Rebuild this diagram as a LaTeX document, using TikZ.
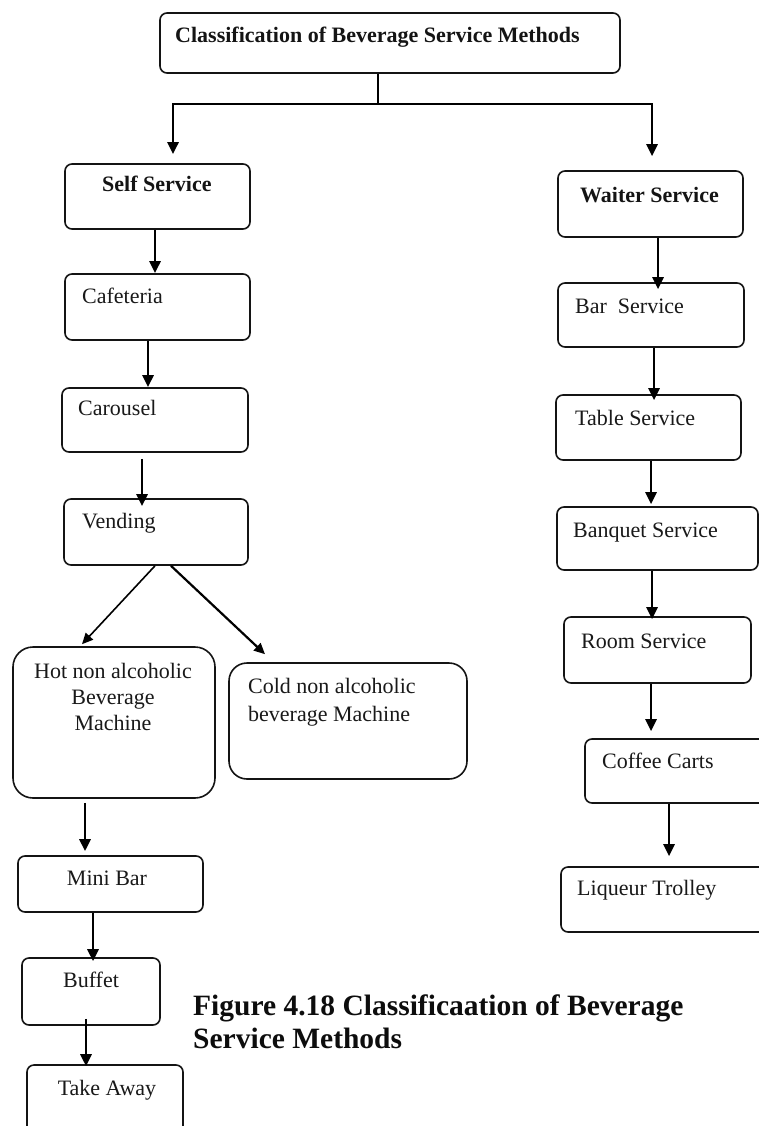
\documentclass[tikz,border=0pt]{standalone}
\usepackage{fontspec}
\setmainfont{Liberation Serif}
\usetikzlibrary{arrows.meta}
\begin{document}
\begin{tikzpicture}[x=1pt,y=-1pt,
  box/.style={draw=black!92, line width=1.6pt, rounded corners=7pt, inner sep=0pt},
  lbl/.style={anchor=base west, inner sep=0pt, text=black!90, font=\fontsize{22}{26}\selectfont},
  clbl/.style={anchor=base, inner sep=0pt, text=black!90, font=\fontsize{22}{26}\selectfont},
  blbl/.style={anchor=base west, inner sep=0pt, text=black!92, font=\fontsize{22}{26}\selectfont\bfseries},
  capline/.style={anchor=base west, inner sep=0pt, text=black!95, font=\fontsize{29.5}{33}\selectfont\bfseries},
  arr/.style={line width=2.6pt, -{Triangle[length=12pt,width=11pt]}},
  darr/.style={line width=1.6pt, -{Triangle[length=11pt,width=10pt]}},
  darrb/.style={line width=2.2pt, -{Triangle[length=11pt,width=10pt]}},
  link/.style={line width=1.6pt}]
\clip (0,0) rectangle (759,1126);
\fill[white] (0,0) rectangle (759,1126);

% ---- boxes ----
\node[box, minimum width=460pt, minimum height=60pt] (top) at (390,43) {};
\node[box, minimum width=185pt, minimum height=65pt] (self) at (157.5,196.5) {};
\node[box, minimum width=185pt, minimum height=66pt] (cafe) at (157.5,307) {};
\node[box, minimum width=186pt, minimum height=64pt] (carousel) at (155,420) {};
\node[box, minimum width=184pt, minimum height=66pt] (vending) at (156,532) {};
\node[box, rounded corners=20pt, minimum width=202pt, minimum height=151pt] (hot) at (114,722.5) {};
\node[box, rounded corners=18pt, minimum width=238pt, minimum height=116pt] (cold) at (348,721) {};
\node[box, minimum width=185pt, minimum height=56pt] (minibar) at (110.5,884) {};
\node[box, minimum width=138pt, minimum height=67pt] (buffet) at (91,991.5) {};
\node[box, minimum width=156pt, minimum height=75pt] (takeaway) at (105,1102.5) {};
\node[box, minimum width=185pt, minimum height=66pt] (waiter) at (650.5,204) {};
\node[box, minimum width=186pt, minimum height=64pt] (bar) at (651,315) {};
\node[box, minimum width=185pt, minimum height=65pt] (table) at (648.5,427.5) {};
\node[box, minimum width=201pt, minimum height=63pt] (banquet) at (657.5,538.5) {};
\node[box, minimum width=187pt, minimum height=66pt] (room) at (657.5,650) {};
\node[box, minimum width=195pt, minimum height=64pt] (coffee) at (682.5,771) {};
\node[box, minimum width=219pt, minimum height=65pt] (liqueur) at (670.5,899.5) {};

% ---- texts ----
\node[blbl] (ttop) at (175,43) {Classification of Beverage Service Methods};
\node[blbl] (tself) at (102,192) {Self Service};
\node[blbl] (twaiter) at (580,202) {Waiter Service};
\node[lbl] (tcafe) at (82,303) {Cafeteria};
\node[lbl] (tcarousel) at (78,415) {Carousel};
\node[lbl] (tvending) at (82,528) {Vending};
\node[clbl] (thot1) at (113,678) {Hot non alcoholic};
\node[clbl] (thot2) at (113,704) {Beverage};
\node[clbl] (thot3) at (113,730) {Machine};
\node[lbl] (tcold1) at (248,693) {Cold non alcoholic};
\node[lbl] (tcold2) at (248,721) {beverage Machine};
\node[clbl] (tminibar) at (107,885) {Mini Bar};
\node[clbl] (tbuffet) at (91,987) {Buffet};
\node[clbl] (ttake) at (107,1095) {Take Away};
\node[lbl] (tbar) at (575,313) {Bar\ \ Service};
\node[lbl] (ttable) at (575,425) {Table Service};
\node[lbl] (tbanquet) at (573,537) {Banquet Service};
\node[lbl] (troom) at (581,648) {Room Service};
\node[lbl] (tcoffee) at (602,768) {Coffee Carts};
\node[lbl] (tliqueur) at (577,895) {Liqueur Trolley};

\node[capline] (cap1) at (193,1015) {Figure 4.18 Classificaation of Beverage};
\node[capline] (cap2) at (193,1048) {Service Methods};

% ---- connectors ----
\coordinate (jc) at (378,104);
\coordinate (jl) at (173,104);
\coordinate (jr) at (652,104);
\draw[link] (top.south -| jc) -- (jc);
\draw[link, line cap=rect] (jl) -- (jr);
\draw[arr] (jl) -- ([yshift=9pt]self.north -| jl);
\draw[arr] (jr) -- ([yshift=14pt]waiter.north -| jr);

\draw[arr] ([xshift=-2.5pt]self.south) -- ([xshift=-2.5pt]self.south |- cafe.north);
\draw[arr] ([xshift=-9.5pt]cafe.south) -- ([xshift=-9.5pt]cafe.south |- carousel.north);
\draw[arr] ([xshift=-13pt,yshift=-6pt]carousel.south) -- ([xshift=-13pt,yshift=-8pt]carousel.south |- vending.north);
\draw[darr] ([xshift=-1pt]vending.south) -- ([xshift=-32pt,yshift=2pt]hot.north);
\draw[darrb] ([xshift=15pt]vending.south) -- ([xshift=-83pt,yshift=8pt]cold.north);
\draw[arr] ([xshift=-29pt,yshift=-4pt]hot.south) -- ([xshift=-29pt,yshift=4pt]hot.south |- minibar.north);
\draw[arr] ([xshift=-17.5pt]minibar.south) -- ([xshift=-17.5pt,yshift=-4pt]minibar.south |- buffet.north);
\draw[arr] ([xshift=-5pt,yshift=7pt]buffet.south) -- ([xshift=-5pt,yshift=-2pt]buffet.south |- takeaway.north);

\draw[arr] ([xshift=7.5pt]waiter.south) -- ([xshift=7.5pt,yshift=-7pt]waiter.south |- bar.north);
\draw[arr] ([xshift=3pt]bar.south) -- ([xshift=3pt,yshift=-6pt]bar.south |- table.north);
\draw[arr] ([xshift=2.5pt]table.south) -- ([xshift=2.5pt,yshift=2pt]table.south |- banquet.north);
\draw[arr] ([xshift=-5.5pt]banquet.south) -- ([xshift=-5.5pt,yshift=-3pt]banquet.south |- room.north);
\draw[arr] ([xshift=-6.5pt]room.south) -- ([xshift=-6.5pt,yshift=7pt]room.south |- coffee.north);
\draw[arr] ([xshift=-13.5pt]coffee.south) -- ([xshift=-13.5pt,yshift=10pt]coffee.south |- liqueur.north);
\end{tikzpicture}
\end{document}
